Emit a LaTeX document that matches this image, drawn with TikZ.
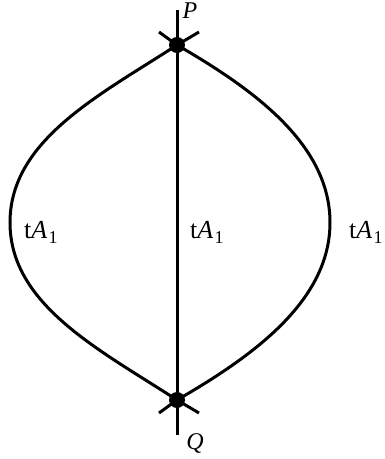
\documentclass[tikz,border=0pt]{standalone}
\usepackage{fontspec}
\setmainfont{Liberation Serif}
\newcommand{\tlab}{t\textit{A}\kern0.05em\raisebox{-0.22em}{\fontsize{18}{18}\selectfont 1}}
\tikzset{
  curve/.style={line width=3pt},
  dotnode/.style={circle,fill=black,inner sep=0pt,minimum size=16pt},
  lab/.style={anchor=base west,inner sep=0pt,font=\fontsize{26}{30}\selectfont},
  ptlab/.style={inner sep=0pt,font=\fontsize{24}{28}\selectfont\itshape}
}
\begin{document}
\begin{tikzpicture}[x=1pt,y=-1pt]
\useasboundingbox (0,0) rectangle (384,459);
\node[dotnode] (P) at (177,45) {};
\node[dotnode] (Q) at (177,400) {};
\coordinate (Ptop) at (177,10);
\coordinate (Qbot) at (177,435);
\coordinate (Pl) at (159,32);
\coordinate (Pr) at (199,32);
\coordinate (Ql) at (159,413);
\coordinate (Qr) at (199,413);
\coordinate (L) at (10,222.5);
\coordinate (R) at (330,222.5);
\draw[curve] (Ptop) -- (Qbot);
\draw[curve] (P.center) -- (Pl);
\draw[curve] (P.center) -- (Pr);
\draw[curve] (Q.center) -- (Ql);
\draw[curve] (Q.center) -- (Qr);
\draw[curve] (P.center) .. controls (100,95) and (10,140) .. (L)
   .. controls (10,305) and (100,350) .. (Q.center);
\draw[curve] (P.center) .. controls (255,90) and (330,145) .. (R)
   .. controls (330,300) and (255,355) .. (Q.center);
\node[lab] (t1) at (24,238) {\tlab};
\node[lab] (t2) at (190,238) {\tlab};
\node[lab] (t3) at (349,238) {\tlab};
\node[ptlab,anchor=base] (Plab) at (190,18) {P};
\node[ptlab] (Qlab) at (195,443) {Q};
\end{tikzpicture}
\end{document}
